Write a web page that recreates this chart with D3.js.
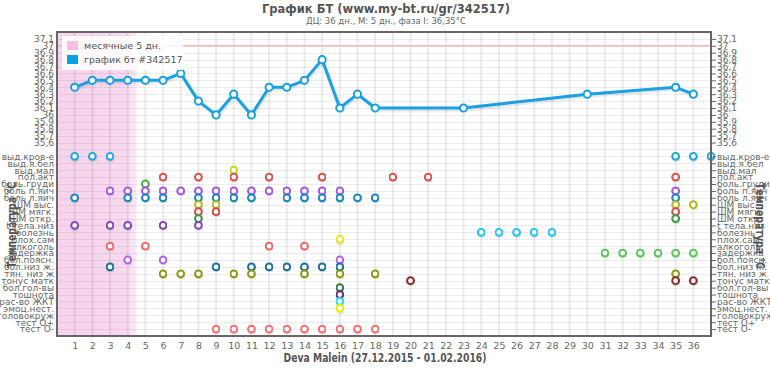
<!DOCTYPE html>
<html>
<head>
<meta charset="utf-8">
<script src="https://cdn.jsdelivr.net/npm/d3@7"></script>
<style>
  body { margin: 0; background: #fff; }
  svg { display: block; font-family: "DejaVu Sans", Verdana, sans-serif; }
</style>
</head>
<body>
<div id="graph"></div>
<script>
let margin = { top: 32, right: 59, bottom: 35, left: 57 },
  width = 770 - margin.left - margin.right,
  height = 371 - margin.top - margin.bottom;

const days = d3.range(1, 37);

// temperature curve
const tempDays = [1, 2, 3, 4, 5, 6, 7, 8, 9, 10, 11, 12, 13, 14, 15, 16, 17, 18, 23, 30, 35, 36];
const tempValues = [36.4, 36.5, 36.5, 36.5, 36.5, 36.5, 36.6, 36.2, 36.0, 36.3, 36.0, 36.4, 36.4, 36.5, 36.8, 36.1, 36.3, 36.1, 36.1, 36.3, 36.4, 36.3];

const tempTicks = ['37,1', '37', '36,9', '36,8', '36,7', '36,6', '36,5', '36,4', '36,3', '36,2', '36,1', '36', '35,9', '35,8', '35,7', '35,6'];

const symptomLabels = ['выд.кров-е', 'выд.я.бел', 'выд.мал', 'пол.акт', 'боль.груди', 'боль п.яич', 'боль л.яич',
  'ШМ выс.', 'ШМ мягк.', 'ШМ откр.', 't тела.низ', 'болезнь', 'плох.сам', 'алкоголь', 'задержка',
  'бол.поясн.', 'бол.низ ж.', 'тян. низ ж', 'тонус матк', 'бол.гол-вы', 'тошнота', 'рас-во ЖКТ',
  'эмоц.нест.', 'головокруж', 'тест О+', 'тест О-'];

// days marked per symptom row (same order as symptomLabels)
const symptomDays = [
  [1, 2, 3, 35, 36, 37],
  [],
  [10],
  [6, 8, 10, 12, 15, 19, 21, 35],
  [5],
  [3, 4, 5, 6, 7, 8, 9, 10, 11, 12, 13, 14, 15, 16, 35],
  [1, 4, 5, 6, 8, 9, 10, 11, 13, 14, 15, 16, 17, 18, 35],
  [8, 9, 35, 36],
  [8, 9, 35],
  [8, 35],
  [1, 3, 4, 6, 8],
  [24, 25, 26, 27, 28],
  [16],
  [3, 5, 12, 14],
  [31, 32, 33, 34, 35, 36],
  [4, 6, 16],
  [3, 9, 11, 12, 13, 14, 15, 16],
  [6, 7, 8, 10, 11, 14, 16, 18, 35],
  [20, 35, 36],
  [16],
  [16],
  [16],
  [16],
  [],
  [],
  [9, 10, 11, 12, 13, 14, 15, 16, 17, 18]
];

const symptomColors = ['#1ca8e2', '#cccccc', '#c9d41f', '#d9534f', '#4aa84a', '#a455e8', '#1a86c0',
  '#b3ba1c', '#d24b4b', '#3d9a4a', '#7f48b8', '#25c4f0', '#e6e61a', '#f26868', '#5cc85c',
  '#b25ef0', '#1b6e9c', '#8a9a14', '#8c2a2a', '#2e7a3a', '#5c2e90', '#22dff0',
  '#f0ee00', '#999999', '#999999', '#f47272'];

const periodDays = 5;

// rows: 0 = top edge, 1..16 temperature, 17 blank, 18..43 symptoms, 44 = bottom edge
const rowCount = 44;
const tempRow = (t) => Math.round((37.2 - t) * 10);
const symptomRow = (i) => 18 + i;

function displayGraph() {
  let xScale = d3.scaleLinear().domain([0, 37]).range([0, width]);
  let yScale = d3.scaleLinear().domain([0, rowCount]).range([0, height]);

  let svg = d3.select('#graph').append('svg')
    .attr('width', width + margin.left + margin.right)
    .attr('height', height + margin.top + margin.bottom);

  let defs = svg.append('defs');
  let grad = defs.append('linearGradient').attr('id', 'pink');
  grad.append('stop').attr('offset', '0%').attr('stop-color', '#f7d3ec');
  grad.append('stop').attr('offset', '85%').attr('stop-color', '#f8d9ef');
  grad.append('stop').attr('offset', '100%').attr('stop-color', '#fbe9f5');

  let shadow = defs.append('filter').attr('id', 'shadow')
    .attr('x', '-5%').attr('y', '-20%').attr('width', '110%').attr('height', '140%');
  shadow.append('feDropShadow').attr('dx', 1).attr('dy', 1.5).attr('stdDeviation', 1)
    .attr('flood-color', '#000').attr('flood-opacity', 0.15);

  // titles
  svg.append('text')
    .attr('x', 386).attr('y', 13)
    .attr('text-anchor', 'middle')
    .attr('font-size', 13).attr('font-weight', 'bold').attr('fill', '#555')
    .attr('textLength', 248).attr('lengthAdjust', 'spacingAndGlyphs')
    .text('График БТ (www.my-bt.ru/gr/342517)');
  svg.append('text')
    .attr('x', 386).attr('y', 24)
    .attr('text-anchor', 'middle')
    .attr('font-size', 8.5).attr('fill', '#666')
    .text('ДЦ: 36 дн., М: 5 дн., фаза I: 36,35°С');
  svg.append('text')
    .attr('x', 385).attr('y', 362)
    .attr('text-anchor', 'middle')
    .attr('font-size', 12).attr('font-weight', 'bold').attr('fill', '#555')
    .attr('textLength', 203).attr('lengthAdjust', 'spacingAndGlyphs')
    .text('Deva Malein (27.12.2015 - 01.02.2016)');

  let vis = svg.append('g')
    .attr('transform', 'translate(' + margin.left + ',' + margin.top + ')');

  // period band
  vis.append('rect')
    .attr('x', xScale(0)).attr('y', 0)
    .attr('width', xScale(periodDays - 0.5) - xScale(0))
    .attr('height', height)
    .attr('fill', 'url(#pink)');

  // grid
  vis.append('g').selectAll('line')
    .data(d3.range(1, rowCount))
    .join('line')
    .attr('x1', 0).attr('x2', width)
    .attr('y1', (d) => Math.round(yScale(d)) + 0.5)
    .attr('y2', (d) => Math.round(yScale(d)) + 0.5)
    .attr('stroke', 'rgba(0,0,0,0.07)');
  vis.append('g').selectAll('line')
    .data(days)
    .join('line')
    .attr('x1', (d) => xScale(d)).attr('x2', (d) => xScale(d))
    .attr('y1', 0).attr('y2', height)
    .attr('stroke', 'rgba(0,0,0,0.08)')
    .attr('stroke-width', 2);

  // 37 degree line
  vis.append('line')
    .attr('x1', 0).attr('x2', width)
    .attr('y1', yScale(tempRow(37))).attr('y2', yScale(tempRow(37)))
    .attr('stroke', '#f7b4b4').attr('stroke-width', 1.5);

  // temperature line
  let temps = tempDays.map((d, i) => ({ day: d, t: tempValues[i] }));
  let line = d3.line()
    .x((d) => xScale(d.day))
    .y((d) => yScale(tempRow(d.t)));
  vis.append('path')
    .datum(temps)
    .attr('fill', 'none')
    .attr('stroke', '#1aa0e2')
    .attr('stroke-width', 3)
    .attr('stroke-linejoin', 'round')
    .attr('filter', 'url(#shadow)')
    .attr('d', line);
  vis.append('g').selectAll('circle')
    .data(temps)
    .join('circle')
    .attr('cx', (d) => xScale(d.day))
    .attr('cy', (d) => yScale(tempRow(d.t)))
    .attr('r', 3.6)
    .attr('fill', '#fff')
    .attr('stroke', '#1aa0e2')
    .attr('stroke-width', 2);

  // symptom dots
  let marks = [];
  symptomDays.forEach((list, i) => {
    list.forEach((d) => marks.push({ day: d, row: i }));
  });
  vis.append('g').selectAll('circle')
    .data(marks)
    .join('circle')
    .attr('cx', (d) => xScale(d.day))
    .attr('cy', (d) => yScale(symptomRow(d.row)))
    .attr('r', 3.4)
    .attr('fill', '#fff')
    .attr('stroke', (d) => symptomColors[d.row])
    .attr('stroke-width', 2)
    .attr('filter', 'url(#shadow)');

  // frame
  vis.append('rect')
    .attr('x', 0).attr('y', 0)
    .attr('width', width).attr('height', height)
    .attr('fill', 'none')
    .attr('stroke', '#666')
    .attr('stroke-width', 2);

  // legend
  let legend = vis.append('g').attr('transform', 'translate(5,4)');
  legend.append('rect')
    .attr('width', 121).attr('height', 34)
    .attr('fill', '#fff').attr('opacity', 0.85);
  legend.append('rect').attr('x', 5).attr('y', 5).attr('width', 11).attr('height', 9).attr('fill', '#f9bde6');
  legend.append('rect').attr('x', 5).attr('y', 19).attr('width', 11).attr('height', 9).attr('fill', '#0a9fe6');
  legend.append('text').attr('x', 22).attr('y', 13).attr('font-size', 9.5).attr('fill', '#555')
    .text('месячные ' + periodDays + ' дн.');
  legend.append('text').attr('x', 22).attr('y', 27).attr('font-size', 9.5).attr('fill', '#555')
    .text('график бт #342517');

  // axes
  let rowTicks = d3.range(1, 17).concat(d3.range(18, 44));
  let rowLabel = (r) => (r <= 16 ? tempTicks[r - 1] : symptomLabels[r - 18]);

  let yLeft = d3.axisLeft(yScale).tickValues(rowTicks).tickFormat(rowLabel).tickSize(0).tickPadding(3);
  let yRight = d3.axisRight(yScale).tickValues(rowTicks).tickFormat(rowLabel).tickSize(5).tickPadding(1);
  let xAxis = d3.axisBottom(xScale).tickValues(days).tickSize(0).tickPadding(6);

  let gl = vis.append('g').call(yLeft);
  let gr = vis.append('g').attr('transform', 'translate(' + width + ',0)').call(yRight);
  let gx = vis.append('g').attr('transform', 'translate(0,' + height + ')').call(xAxis);
  [gl, gr, gx].forEach((g) => {
    g.attr('font-family', null).attr('font-size', null);
    g.select('.domain').remove();
    g.selectAll('text').attr('fill', '#666').attr('font-size', 9);
  });
  gr.selectAll('line').attr('stroke', '#666');
  gx.selectAll('text').attr('font-size', 9.5);

  // axis titles
  svg.append('text')
    .attr('transform', 'translate(16,225) rotate(-90)')
    .attr('text-anchor', 'middle')
    .attr('font-size', 12).attr('font-weight', 'bold').attr('fill', '#555')
    .attr('textLength', 86).attr('lengthAdjust', 'spacingAndGlyphs')
    .text('Температура °С');
  svg.append('text')
    .attr('transform', 'translate(756,226) rotate(90)')
    .attr('text-anchor', 'middle')
    .attr('font-size', 12).attr('font-weight', 'bold').attr('fill', '#555')
    .attr('textLength', 86).attr('lengthAdjust', 'spacingAndGlyphs')
    .text('Температура °С');
}

displayGraph();
</script>
</body>
</html>
